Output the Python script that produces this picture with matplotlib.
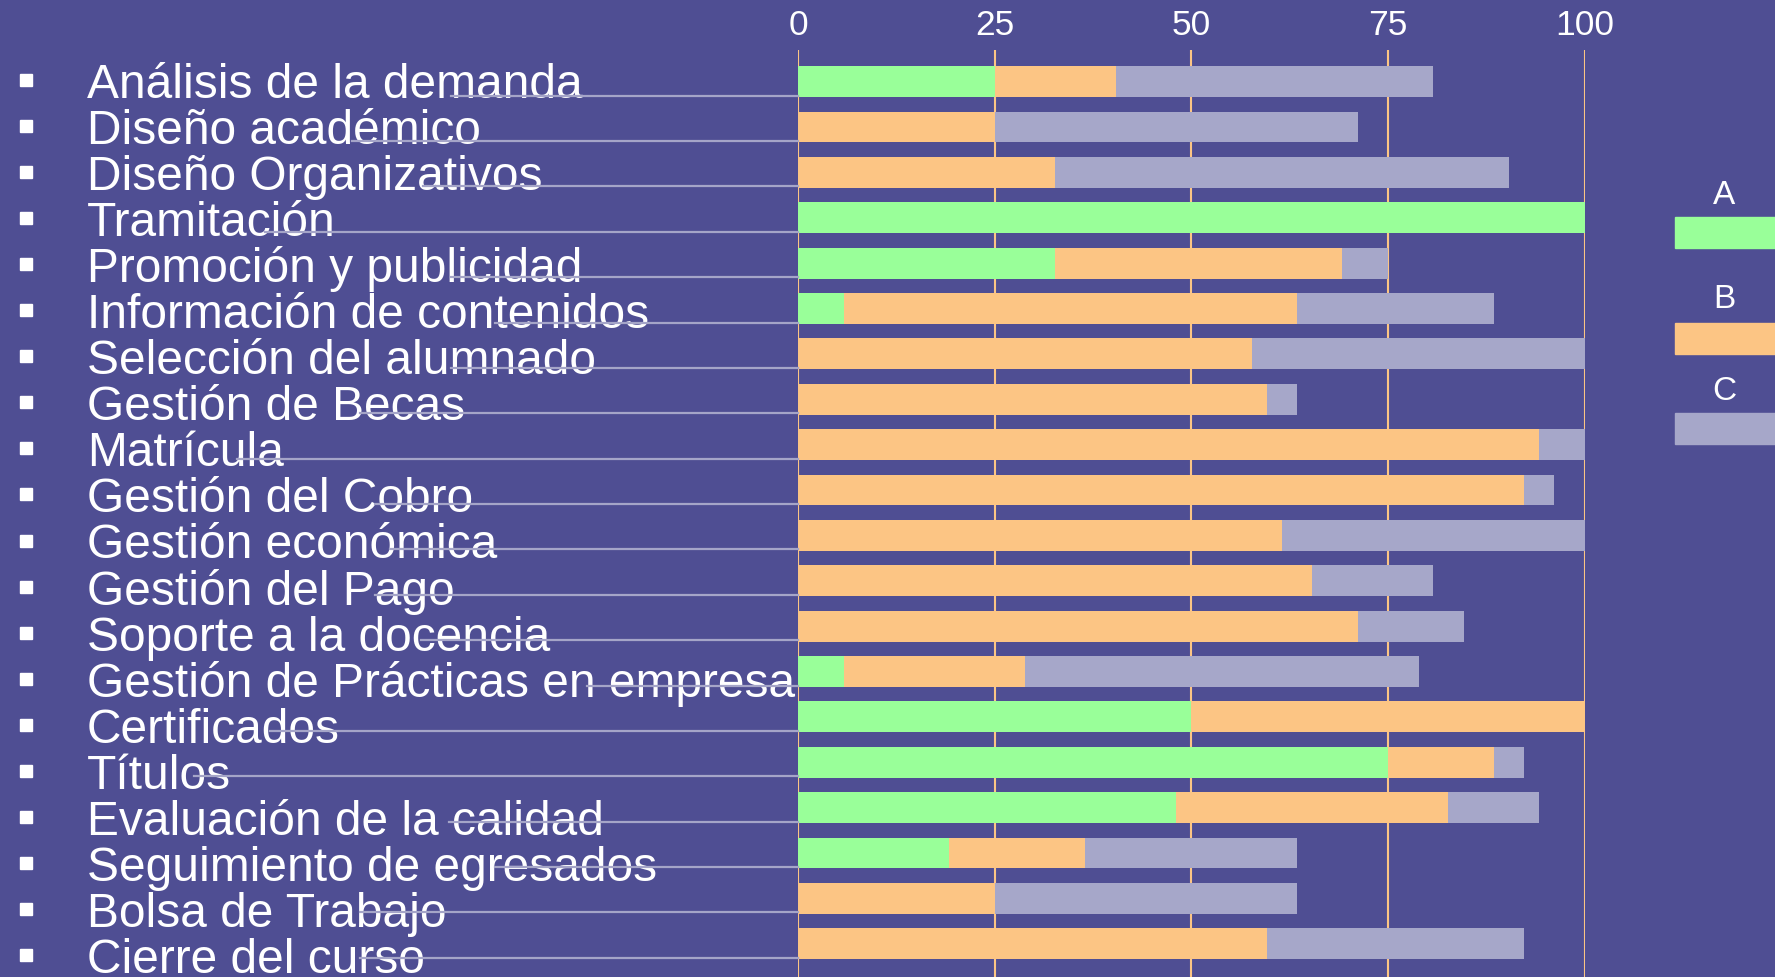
# -*- coding: UTF-8 -*-
import numpy as np
import matplotlib
matplotlib.use('Agg')
import matplotlib.pyplot as plt
import matplotlib.transforms as mtransforms
from matplotlib.patches import Rectangle

plt.rcParams['font.family'] = ['Liberation Sans', 'DejaVu Sans']

# datos (porcentaje por categoria)
tareas = ['Análisis de la demanda', 'Diseño académico', 'Diseño Organizativos',
          'Tramitación', 'Promoción y publicidad', 'Información de contenidos',
          'Selección del alumnado', 'Gestión de Becas', 'Matrícula',
          'Gestión del Cobro', 'Gestión económica', 'Gestión del Pago',
          'Soporte a la docencia', 'Gestión de Prácticas en empresa',
          'Certificados', 'Títulos', 'Evaluación de la calidad',
          'Seguimiento de egresados', 'Bolsa de Trabajo', 'Cierre del curso']
serie_a = [25.0, 0, 0, 100.0, 32.7, 5.8, 0, 0, 0, 0,
           0, 0, 0, 5.8, 50.0, 75.0, 48.1, 19.2, 0, 0]
serie_b = [15.4, 25.0, 32.7, 0, 36.5, 57.7, 57.7, 59.6, 94.2, 92.3,
           61.5, 65.4, 71.2, 23.1, 50.0, 13.5, 34.6, 17.3, 25.0, 59.6]
serie_c = [40.4, 46.2, 57.7, 0, 5.8, 25.0, 42.3, 3.8, 5.8, 3.8,
           38.5, 15.4, 13.5, 50.0, 0, 3.8, 11.5, 26.9, 38.5, 32.7]
series = ['A', 'B', 'C']
ticks = [0, 25, 50, 75, 100]

FONDO = '#4F4E93'
COLORES = ['#99FF99', '#FCC584', '#A6A7C9']
LINEA = '#A5A5C8'

# donde empiezan las lineas guia (px de la figura)
inicio_guia = [451, 352, 423, 265, 451, 495, 451, 360, 237, 375,
               390, 375, 421, 587, 270, 194, 449, 495, 360, 360]

W, H = 1775, 978
fig = plt.figure(figsize=(W / 100, H / 100), dpi=100, facecolor=FONDO)
ax = fig.add_axes([798 / W, 0.0, (1584.5 - 798) / W, (H - 51) / H])
ax.set_facecolor(FONDO)

y = np.arange(len(tareas))
a = np.array(serie_a)
b = np.array(serie_b)
c = np.array(serie_c)
for vals, left, col in [(a, 0, COLORES[0]), (b, a, COLORES[1]), (c, a + b, COLORES[2])]:
    ax.barh(y, vals, left=left, height=0.68, color=col, zorder=2)

for t in ticks:
    ax.axvline(t, color=COLORES[1], lw=1.5, zorder=1)

ax.set_xlim(0, 100)
ax.set_ylim(len(tareas) - 1 + 0.734, -0.697)
ax.xaxis.tick_top()
ax.set_xticks(ticks)
ax.set_xticklabels([str(t) for t in ticks])
ax.tick_params(axis='x', length=0, pad=6.5, labelsize=25.5, labelcolor='white')
ax.set_yticks([])
for s in ax.spines.values():
    s.set_visible(False)

# etiquetas con viñeta
for i, nombre in enumerate(tareas):
    base = 98 + i * 46.05
    ax.text(87 / W, 1 - base / H, nombre, transform=fig.transFigure, fontsize=34.5,
            color='white', va='baseline', ha='left', clip_on=False, zorder=3)
    ax.plot([25.5 / W], [1 - (base - 17) / H], marker='s', ms=9, color='white',
            transform=fig.transFigure, clip_on=False, zorder=3)

# lineas guia desde la etiqueta hasta el eje
trans = mtransforms.blended_transform_factory(fig.transFigure, ax.transData)
for i, x0 in enumerate(inicio_guia):
    ax.plot([x0 / W, 798 / W], [i + 0.31, i + 0.31], color=LINEA, lw=1.6,
            transform=trans, clip_on=False, zorder=4)

# leyenda
leg_y = [218, 324, 414]
leg_txt = [204, 308, 400]
for k, nombre in enumerate(series):
    fig.add_artist(Rectangle((1675 / W, 1 - (leg_y[k] + 31) / H), 100 / W, 31 / H,
                             transform=fig.transFigure, color=COLORES[k]))
    fig.text(1724 / W, 1 - leg_txt[k] / H, nombre, fontsize=24, color='white',
             ha='center', va='baseline')

plt.savefig('out.png', dpi=100, facecolor=FONDO)
plt.close()
